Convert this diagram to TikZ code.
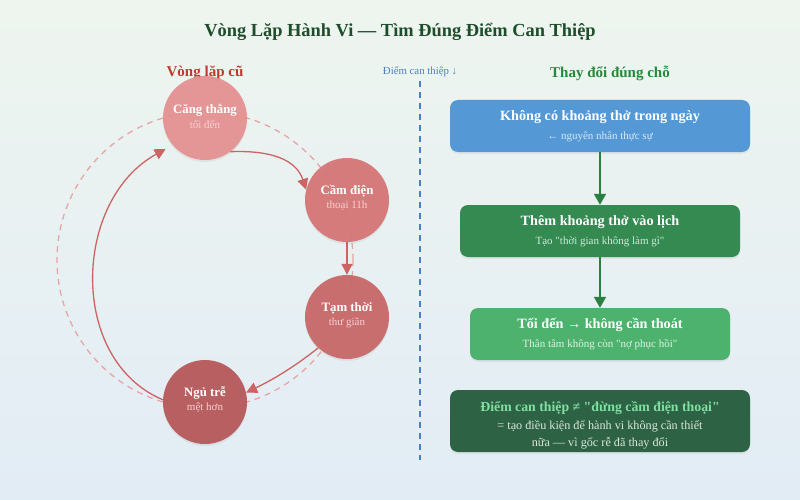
\documentclass[tikz,border=0pt]{standalone}
\usepackage{fontspec}
\setmainfont{Liberation Serif}[Ligatures=TeXOff]
\usetikzlibrary{arrows.meta,shadows,calc}
\definecolor{bgA}{HTML}{EEF5EF}
\definecolor{bgB}{HTML}{E2ECF5}
\definecolor{titleC}{HTML}{1E4D2B}
\definecolor{redT}{HTML}{C0392B}
\definecolor{blueT}{HTML}{4A7FC1}
\definecolor{greenT}{HTML}{238A3C}
\definecolor{cA}{HTML}{E58F8F}
\definecolor{cB}{HTML}{D57373}
\definecolor{cC}{HTML}{C86565}
\definecolor{cD}{HTML}{B65656}
\definecolor{loopC}{HTML}{CC6464}
\definecolor{dashC}{HTML}{E8A5A5}
\definecolor{subPink}{HTML}{FAD0D0}
\definecolor{bxA}{HTML}{5499D5}
\definecolor{bxB}{HTML}{358A52}
\definecolor{bxC}{HTML}{4DB26E}
\definecolor{bxD}{HTML}{2E6245}
\definecolor{arrG}{HTML}{2A8040}
\definecolor{subA}{HTML}{D6E8F8}
\definecolor{subB}{HTML}{CDEBD6}
\definecolor{subC}{HTML}{DDF3E4}
\definecolor{hiD}{HTML}{7FE0A0}
\definecolor{bodyD}{HTML}{D8E8DC}
\tikzset{
  fs/.style={font=\fontsize{#1}{#1}\selectfont},
  bfs/.style={font=\fontsize{#1}{#1}\selectfont\bfseries},
  loopcirc/.style={circle, minimum size=84pt, inner sep=0pt, fill opacity=0.92,
     drop shadow={opacity=0.12, shadow xshift=0pt, shadow yshift=-2pt}},
  stepbox/.style={rounded corners=8pt, minimum height=52pt,
     drop shadow={opacity=0.10, shadow xshift=0pt, shadow yshift=-2pt}},
  looparrow/.style={draw=loopC, line width=1.3pt, -{Triangle[length=11pt,width=11pt]}},
  greenarrow/.style={draw=arrG, line width=1.8pt, -{Triangle[length=11pt,width=12pt]}},
}
\begin{document}
\begin{tikzpicture}[x=1pt,y=-1pt]
\useasboundingbox (0,0) rectangle (800,500);
\shade[left color=bgA, right color=bgB, shading angle=0] (0,0) rectangle (800,500);
\shade[top color=bgA, bottom color=bgB, opacity=0.6] (0,0) rectangle (800,500);

\node[bfs=18.4, text=titleC] (title) at (400,32) {Vòng Lặp Hành Vi — Tìm Đúng Điểm Can Thiệp};
\node[bfs=15, text=redT] (lbl1) at (205,73) {Vòng lặp cũ};
\node[fs=10.8, text=blueT] (lbl2) at (420,72) {Điểm can thiệp ↓};
\node[bfs=15, text=greenT] (lbl3) at (610,73) {Thay đổi đúng chỗ};

\coordinate (divtop) at (420,81);
\coordinate (divbot) at (420,460);
\draw[blueT, line width=1.5pt, dash pattern=on 6pt off 5pt] (divtop) -- (divbot);

% dashed loop
\draw[dashC, line width=1.3pt, dash pattern=on 6pt off 5pt] (205,260) circle[radius=148];

% circles
\node[loopcirc, fill=cA] (c1) at (205,118) {};
\node[loopcirc, fill=cB] (c2) at (347,200) {};
\node[loopcirc, fill=cC] (c3) at (347,317) {};
\node[loopcirc, fill=cD] (c4) at (205,402) {};
\node[bfs=12.8, text=white] (t1) at (205,110) {Căng thẳng};
\node[fs=11, text=subPink] (s1) at (205,125) {tối đến};
\node[bfs=12.8, text=white] (t2) at (347,191) {Cầm điện};
\node[fs=11, text=subPink] (s2) at (347,206) {thoại 11h};
\node[bfs=12.8, text=white] (t3) at (347,308) {Tạm thời};
\node[fs=11, text=subPink] (s3) at (347,323) {thư giãn};
\node[bfs=12.8, text=white] (t4) at (205,393) {Ngủ trễ};
\node[fs=11, text=subPink] (s4) at (205,408) {mệt hơn};

% loop arrows
\draw[looparrow] (c1.-53) .. controls +(50,-2) and +(-8,-25) .. (c2.166);
\draw[looparrow] (c2.south) -- (c3.north);
\draw[looparrow] (c3.-133) .. controls +(-25,20) and +(25,-12) .. (c4.13);
\draw[looparrow, shorten >=8pt] (c4.177) .. controls +(-95,-40) and +(-100,55) .. (c1.-140);

% right side boxes
\node[stepbox, fill=bxA, minimum width=300pt] (b1) at (600,126) {};
\node[bfs=14.2, text=white] (b1t) at (600,117) {Không có khoảng thở trong ngày};
\node[fs=11, text=subA] (b1s) at (600,137) {← nguyên nhân thực sự};

\node[stepbox, fill=bxB, minimum width=280pt] (b2) at (600,231) {};
\node[bfs=14.2, text=white] (b2t) at (600,222) {Thêm khoảng thở vào lịch};
\node[fs=11, text=subB] (b2s) at (600,242) {Tạo "thời gian không làm gì"};

\node[stepbox, fill=bxC, minimum width=260pt] (b3) at (600,334) {};
\node[bfs=14.2, text=white] (b3t) at (600,325) {Tối đến → không cần thoát};
\node[fs=11, text=subC] (b3s) at (600,345) {Thân tâm không còn "nợ phục hồi"};

\node[stepbox, fill=bxD, minimum width=300pt, minimum height=62pt] (b4) at (600,421) {};
\node[bfs=13.8, text=hiD] (b4t) at (600,408) {Điểm can thiệp ≠ "đừng cầm điện thoại"};
\node[font=\fontsize{12.2}{16.5}\selectfont, text=bodyD, align=center] (b4s) at (600,435) {= tạo điều kiện để hành vi không cần thiết\\nữa — vì gốc rễ đã thay đổi};

\draw[greenarrow] (b1.south) -- (b2.north);
\draw[greenarrow] (b2.south) -- (b3.north);
\end{tikzpicture}
\end{document}
